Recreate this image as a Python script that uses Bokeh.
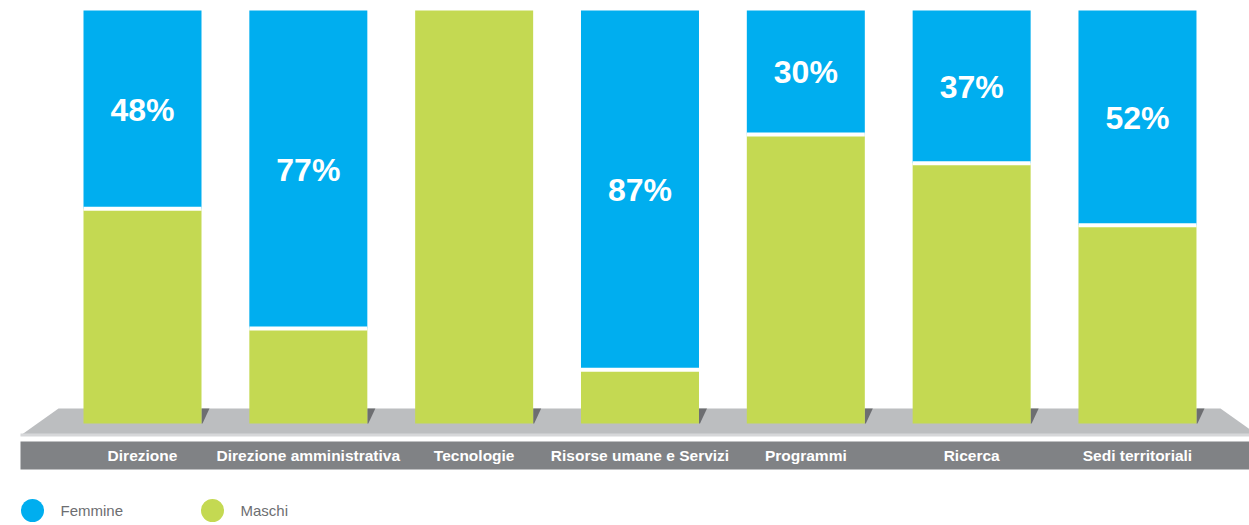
from bokeh.plotting import figure
from bokeh.models import ColumnDataSource, Range1d
from bokeh.core.properties import value
from bokeh.embed import file_html
from bokeh.resources import INLINE

# ---- data ----
categories = ["Direzione", "Direzione amministrativa", "Tecnologie",
              "Risorse umane e Servizi", "Programmi", "Ricerca", "Sedi territoriali"]
femmine = [48, 77, 0, 87, 30, 37, 52]
maschi = [52, 23, 100, 13, 70, 63, 48]
series_names = ["Femmine", "Maschi"]

BLUE = "#00aeef"
GREEN = "#c4d952"
PLATFORM = "#bcbec0"
PLATFORM_EDGE = "#d6d7d9"
BAND = "#808285"
SHADOW = "#6d6e71"
LEGEND_TXT = "#6d6e71"

# ---- layout (page pixel -> data helpers) ----
W, H = 1249, 525
OFF = 0                     # page offset of the canvas
X0, DX = 142.0, 165.83      # page x of first bar centre, spacing
Y0, SY = 423.0, 4.13        # page y of value 0, px per percent
BW = 118 / DX               # bar width in data units


def dx(px):
    return (px - X0) / DX


def dy(py):
    return (Y0 - py) / SY


p = figure(width=W, height=H, output_backend="svg", toolbar_location=None,
           min_border=0, x_range=Range1d(dx(OFF), dx(OFF + W)),
           y_range=Range1d(dy(OFF + H), dy(OFF)))
p.axis.visible = False
p.grid.visible = False
p.outline_line_color = None
p.background_fill_color = "white"
p.border_fill_color = "white"

idx = list(range(len(categories)))

# platform (perspective base)
p.patch([dx(58), dx(1220), dx(1258), dx(20)], [dy(408), dy(408), dy(435), dy(435)],
        fill_color=PLATFORM, line_color=None)
p.patch([dx(20), dx(1262), dx(1262), dx(20)], [dy(433), dy(433), dy(436), dy(436)],
        fill_color=PLATFORM_EDGE, line_color=None)
# dark band for category labels
p.quad(left=[dx(20)], right=[dx(1262)], top=[dy(441)], bottom=[dy(469)],
       fill_color=BAND, line_color=None)

# shadows to the right of each bar
sh_xs, sh_ys = [], []
for i in idx:
    r = i + BW / 2
    sh_xs.append([r, r + 8 / DX, r + 1 / DX, r])
    sh_ys.append([dy(408), dy(408), dy(423), dy(423)])
p.patches(sh_xs, sh_ys, fill_color=SHADOW, line_color=None)

# stacked bars
src = ColumnDataSource(dict(x=idx, m=maschi, f=femmine,
                            top_f=[m + f for m, f in zip(maschi, femmine)]))
p.vbar(x="x", width=BW, bottom=0, top="m", source=src, fill_color=GREEN, line_color=None)
p.vbar(x="x", width=BW, bottom="m", top="top_f", source=src, fill_color=BLUE, line_color=None)

# white separators between segments
sx0, sx1, sy = [], [], []
for i, (m, f) in enumerate(zip(maschi, femmine)):
    if m > 0 and f > 0:
        sx0.append(i - BW / 2)
        sx1.append(i + BW / 2)
        sy.append(m)
p.segment(x0=sx0, x1=sx1, y0=sy, y1=sy, line_color="white", line_width=4)

# percentage labels
lx, ly, lt = [], [], []
for i, (m, f) in enumerate(zip(maschi, femmine)):
    if f > 0:
        lx.append(i)
        ly.append(m + f / 2)
        lt.append(f"{f}%")
p.text(x=lx, y=ly, text=lt, text_color="white", text_font=value("Liberation Sans"),
       text_font_style="bold", text_font_size="32px", text_align="center",
       text_baseline="middle")

# category labels
p.text(x=idx, y=[dy(455)] * len(idx), text=categories, text_color="white",
       text_font=value("Liberation Sans"), text_font_style="bold",
       text_font_size="15.5px", text_align="center", text_baseline="middle")

# legend
p.scatter(x=[dx(32), dx(212)], y=[dy(510)] * 2, size=23, marker="circle",
          fill_color=[BLUE, GREEN], line_color=None)
p.text(x=[dx(60), dx(240)], y=[dy(510)] * 2, text=series_names, text_color=LEGEND_TXT,
       text_font=value("Liberation Sans"), text_font_size="15px",
       text_align="left", text_baseline="middle")

open("out.html", "w").write(file_html(p, INLINE))
